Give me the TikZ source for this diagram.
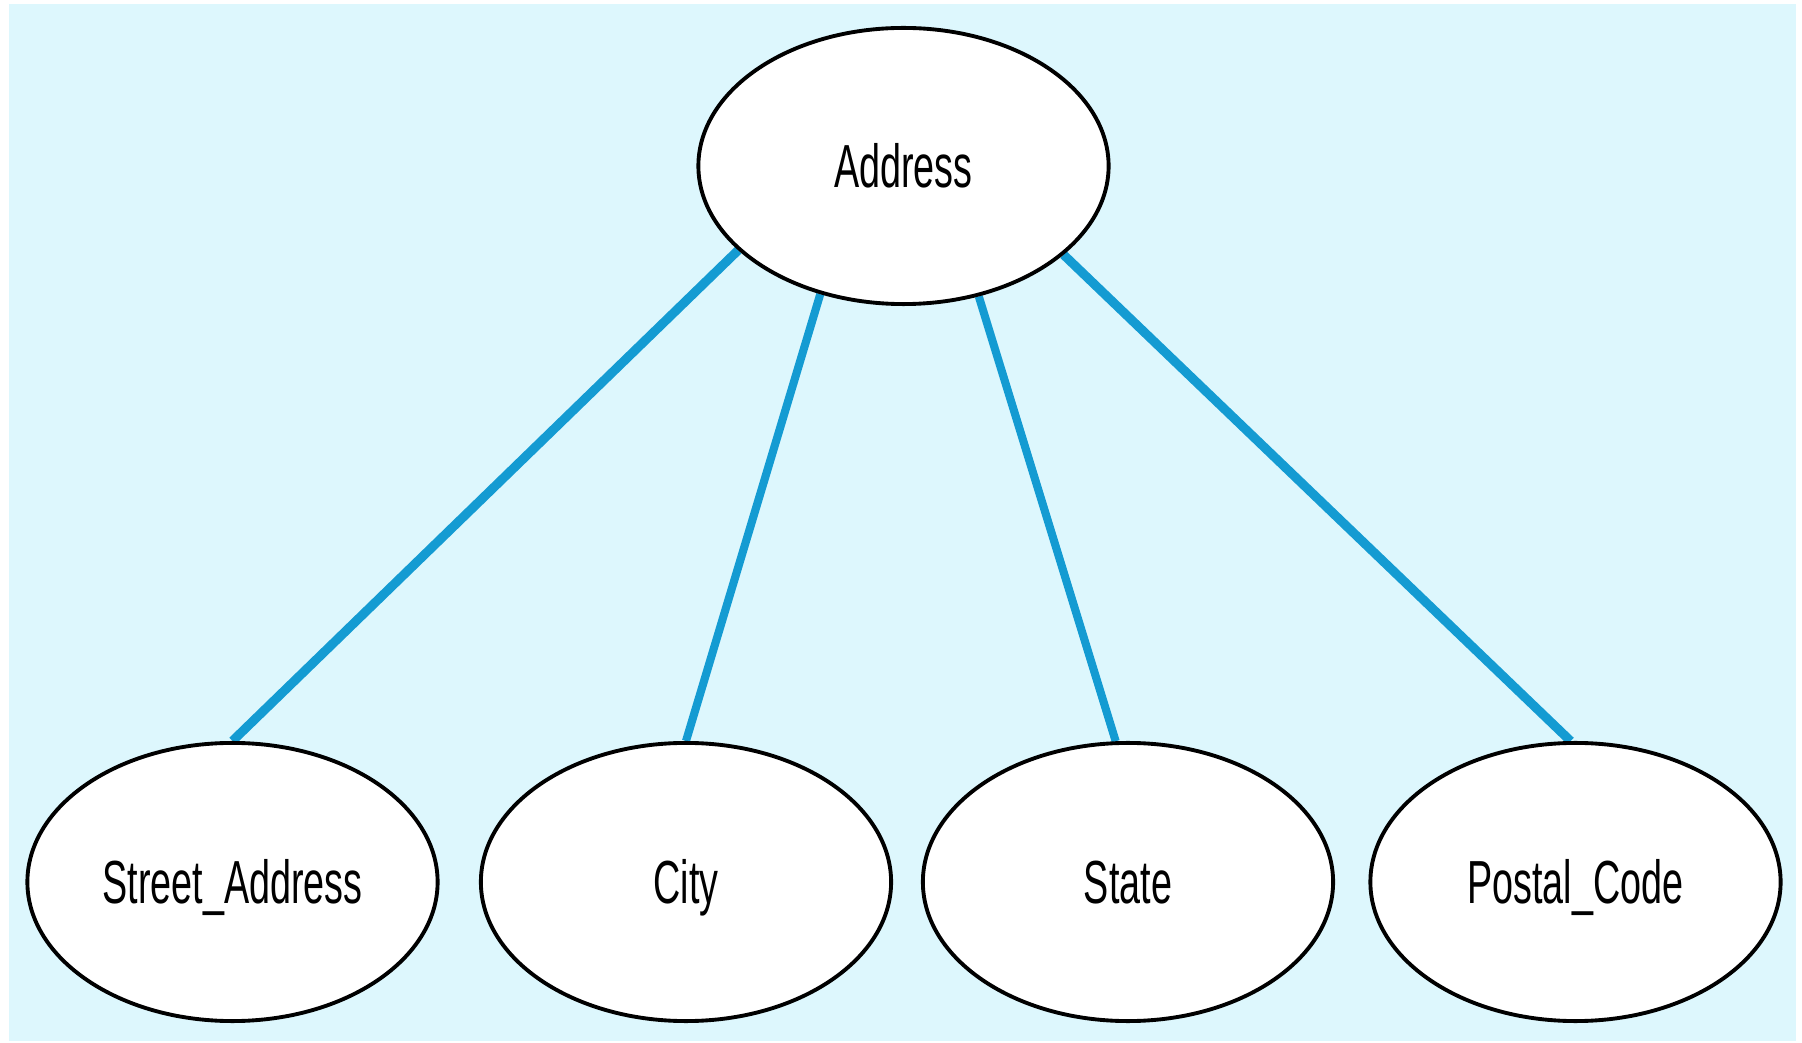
\documentclass[tikz,border=0pt]{standalone}
\usepackage{fontspec}
\newfontfamily\condfont[FakeStretch=0.62]{Liberation Sans}
\usetikzlibrary{shapes.geometric}
\definecolor{bgcyan}{RGB}{221,247,253}
\definecolor{linkblue}{RGB}{20,155,210}
\pgfdeclarelayer{back}
\pgfdeclarelayer{mid}
\pgfsetlayers{back,mid,main}
\tikzset{
  attr/.style={ellipse, draw=black, line width=1.1pt, fill=white,
    minimum width=4.1cm, minimum height=2.78cm, inner sep=0pt,
    font=\condfont\fontsize{17.3}{20}\selectfont, text height=12.4pt, text depth=0pt},
  link/.style={draw=linkblue, line width=2.3pt},
  outerlink/.style={link, line width=2.6pt}
}
\begin{document}
\begin{tikzpicture}[x=0.01cm,y=-0.01cm]
\useasboundingbox (0,0) rectangle (1802,1043);
\begin{pgfonlayer}{back}
  \fill[bgcyan] (9,4) rectangle (1796,1041);
\end{pgfonlayer}
\node[attr, minimum height=2.76cm] (addr) at (903.5,166) {Address};
\node[attr] (street) at (232.5,882) {Street\_Address};
\node[attr] (city) at (686,882) {City};
\node[attr] (state) at (1128,882) {State};
\node[attr] (postal) at (1575.5,882) {Postal\_Code};
\begin{pgfonlayer}{mid}
  \draw[outerlink] (addr.207.8) -- (street.north);
  \draw[link] (addr.237.5) -- (city.north);
  \draw[link] (addr.300.1) -- (state.95);
  \draw[outerlink] (addr.331.9) -- (postal.92);
\end{pgfonlayer}
\end{tikzpicture}
\end{document}
